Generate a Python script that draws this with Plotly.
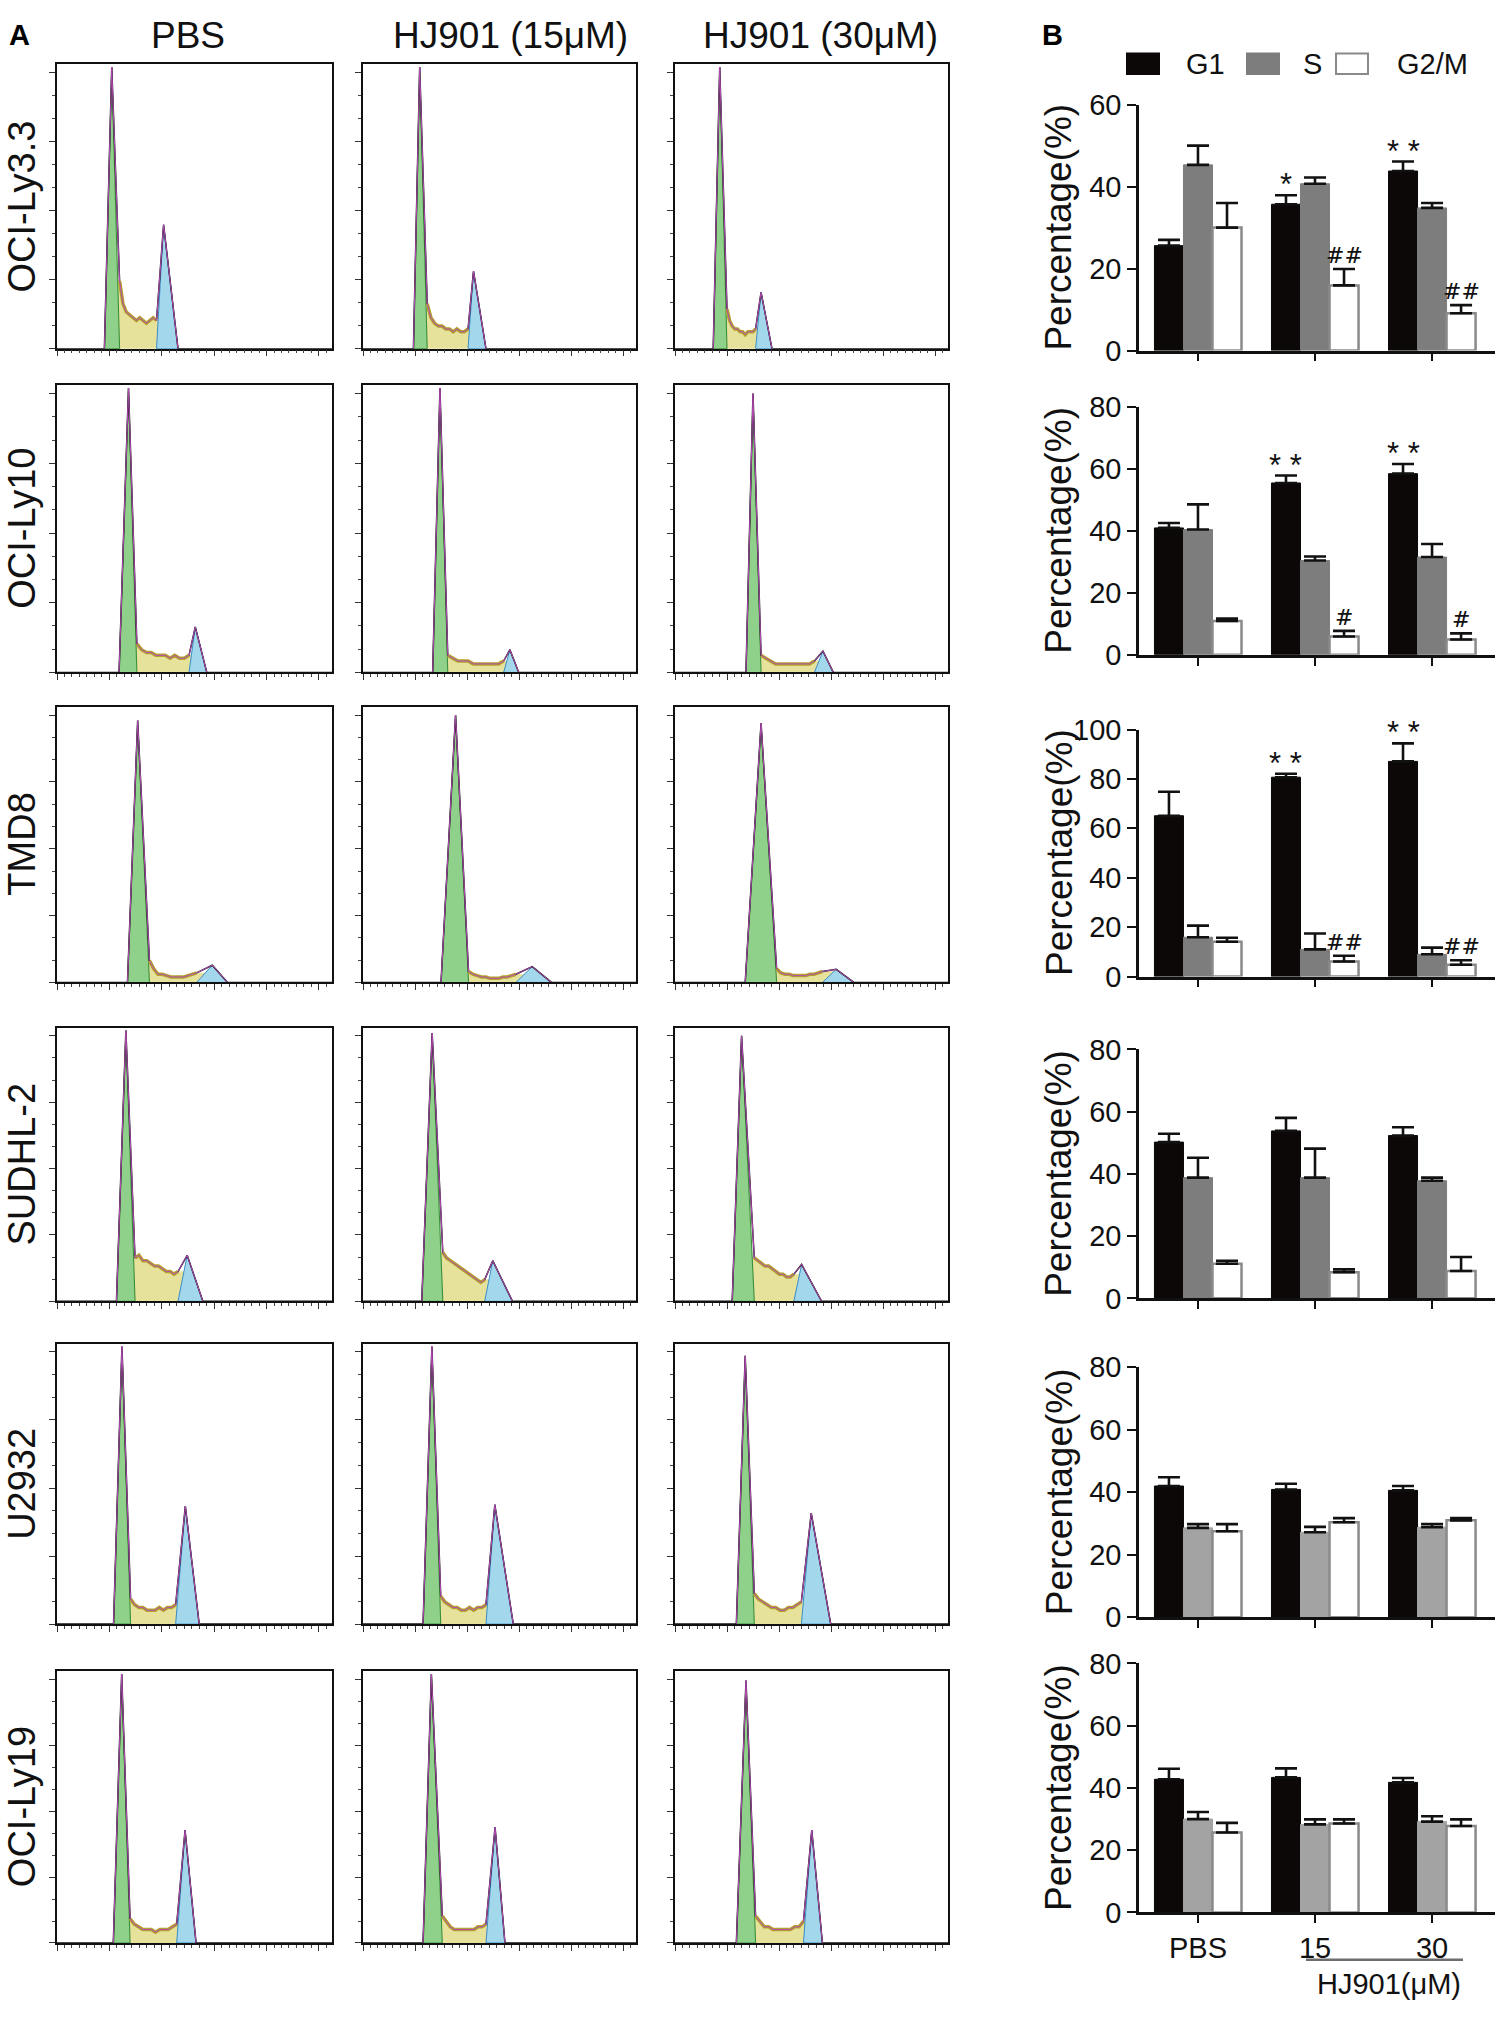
import plotly.graph_objects as go

W, H = 1500, 2020
FONT = "Arial, Liberation Sans, Helvetica, sans-serif"

# ---------------- Panel A data (DNA-content histograms, x in channel units 0-1050, y in % of max) ----------------
CELL_LINES = ["OCI-Ly3.3", "OCI-Ly10", "TMD8", "SUDHL-2", "U2932", "OCI-Ly19"]
TREATMENTS = ["PBS", "HJ901 (15μM)", "HJ901 (30μM)"]

G1_LEFT = [[181, 194, 147], [237, 268, 273], [269, 300, 270], [227, 226, 220], [216, 231, 236], [215, 231, 236]]
G1_TOP = [[209, 218, 172], [273, 296, 300], [308, 356, 331], [263, 266, 256], [248, 265, 270], [247, 263, 273]]
G1_RIGHT = [[239, 247, 200], [305, 326, 331], [353, 406, 391], [298, 307, 305], [281, 299, 305], [279, 305, 310]]
G1_HEIGHT = [[100, 100, 100], [100, 100, 98], [96, 98, 95], [100, 99, 98], [100, 100, 96.6], [100, 100, 97.6]]

G2_LEFT = [[380, 404, 310], [504, 541, 536], [533, 588, 567], [462, 468, 457], [453, 473, 486], [457, 473, 494]]
G2_TOP = [[407, 425, 331], [528, 565, 569], [593, 651, 620], [497, 499, 487], [490, 507, 524], [489, 508, 526]]
G2_RIGHT = [[462, 473, 373], [572, 599, 609], [651, 725, 688], [557, 575, 564], [543, 578, 599], [531, 546, 567]]
G2_HEIGHT = [[44, 27.5, 20], [16, 8, 7.5], [6.3, 5.8, 4.8], [17, 15, 13.6], [42.5, 43, 40], [42, 43, 42]]

S_LEVELS = [
    [[24, 16, 13, 12, 11, 10, 11, 10, 9, 10, 11, 10],
     [16, 11, 9, 8, 8, 7, 7, 6, 7, 6, 6, 7],
     [14, 10, 8, 7, 7, 6, 6, 5, 6, 6, 6, 7]],
    [[10, 8, 7, 7, 6, 6, 6, 5, 6, 5, 5, 6],
     [6, 5, 4, 4, 4, 3, 3, 3, 3, 3, 3, 4],
     [6, 5, 4, 3, 3, 3, 3, 3, 3, 3, 3, 4]],
    [[8, 5, 3, 3, 2.5, 2, 2, 2, 2, 2.5, 3, 3.5],
     [4, 3, 2.5, 2, 2, 1.5, 1.5, 1.5, 2, 2, 2.5, 3],
     [5, 3.5, 3, 3, 2.5, 2.5, 2.5, 2.5, 3, 3, 3.5, 4]],
    [[16, 17, 15, 15, 14, 13, 13, 12, 11, 11, 10, 11],
     [18, 16, 15, 14, 13, 12, 11, 10, 9, 8, 7, 8],
     [16, 15, 14, 13, 13, 12, 11, 10, 10, 9, 9, 10]],
    [[9, 7, 6, 6, 5, 5, 5, 6, 5, 6, 6, 7],
     [10, 8, 7, 6, 6, 5, 5, 6, 5, 6, 6, 7],
     [11, 9, 8, 7, 6, 6, 5, 5, 6, 6, 7, 8]],
    [[9, 7, 6, 5, 5, 5, 4, 5, 5, 5, 6, 7],
     [10, 8, 6, 5, 5, 5, 5, 5, 5, 6, 6, 7],
     [10, 8, 6, 6, 5, 5, 5, 5, 5, 6, 6, 8]],
]

# ---------------- Panel B data (cell-cycle percentages, mean and SD) ----------------
CONDITIONS = ["PBS", "15", "30"]
PHASES = ["G1", "S", "G2/M"]
G1_MEAN = [[25.6, 35.7, 43.8], [40.9, 55.4, 58.4], [65.1, 80.7, 87.1],
           [50.2, 53.8, 52.3], [42.0, 40.9, 40.6], [42.8, 43.4, 41.8]]
G1_ERR = [[1.4, 2.2, 2.3], [1.6, 2.4, 3.1], [9.7, 1.4, 7.3],
          [2.7, 4.2, 2.7], [2.8, 1.8, 1.4], [3.4, 2.9, 1.4]]
S_MEAN = [[45.3, 40.7, 34.8], [40.4, 30.4, 31.5], [15.9, 11.0, 9.0],
          [38.8, 38.8, 37.8], [28.6, 27.2, 28.8], [30.0, 28.3, 29.2]]
S_ERR = [[4.7, 1.5, 1.2], [8.1, 1.3, 4.2], [4.7, 6.4, 2.7],
         [6.4, 9.3, 1.0], [1.2, 1.7, 1.0], [2.3, 1.6, 1.7]]
G2M_MEAN = [[30.0, 15.9, 9.1], [10.9, 5.9, 4.9], [14.1, 6.1, 4.8],
            [11.1, 8.4, 8.8], [27.5, 30.4, 31.0], [25.7, 28.6, 27.8]]
G2M_ERR = [[6.0, 4.0, 2.0], [0.8, 1.8, 2.0], [1.6, 2.3, 1.8],
           [1.0, 0.9, 4.5], [2.3, 1.3, 0.7], [3.1, 1.3, 2.1]]
G1_SIG = [["", "*", "* *"], ["", "* *", "* *"], ["", "* *", "* *"], ["", "", ""], ["", "", ""], ["", "", ""]]
G2M_SIG = [["", "##", "##"], ["", "#", "#"], ["", "##", "##"], ["", "", ""], ["", "", ""], ["", "", ""]]
Y_MAX = [60, 80, 100, 80, 80, 80]
Y_TICKS = [[0, 20, 40, 60], [0, 20, 40, 60, 80], [0, 20, 40, 60, 80, 100],
           [0, 20, 40, 60, 80], [0, 20, 40, 60, 80], [0, 20, 40, 60, 80]]

# ---------------- layout geometry (pixels) ----------------
HIST_COLS_PX = [(57, 332), (363, 636), (675, 948)]
HIST_ROWS_PX = [(49, 338), (375, 667), (702, 982), (1028, 1306), (1349, 1634), (1682, 1958)]
BAR_X_PX = (1139, 1495)
BAR_ROWS_PX = [(90, 340), (397, 649), (725, 976), (1050, 1303), (1373, 1627), (1674, 1927)]
S_BAR_COLORS = ["#7d7d7d", "#7d7d7d", "#7d7d7d", "#7d7d7d", "#a3a3a3", "#a3a3a3"]


def fx(p):
    return p / W


def fy(p):
    return 1 - p / H


fig = go.Figure()
layout_axes = {}
annotations = []
shapes = []


def axname(k):
    return ("x" if k == 1 else f"x{k}"), ("y" if k == 1 else f"y{k}")


# ---------------- Panel A ----------------
for r in range(6):
    for c in range(3):
        k = r * 3 + c + 1
        xa, ya = axname(k)
        xl, xp, xr, h1 = G1_LEFT[r][c], G1_TOP[r][c], G1_RIGHT[r][c], G1_HEIGHT[r][c]
        x2l, x2p, x2r, h2 = G2_LEFT[r][c], G2_TOP[r][c], G2_RIGHT[r][c], G2_HEIGHT[r][c]
        s = S_LEVELS[r][c]
        n = len(s)
        sx = [xr + (x2l - xr) * i / (n - 1) for i in range(n)]

        # S phase (yellow)
        fig.add_trace(go.Scatter(
            x=[xp] + sx + [x2p, x2p, xp, xp], y=[s[0]] + s + [s[-1], 0, 0, s[0]],
            fill="toself", fillcolor="#e6e29c", line=dict(color="#e6e29c", width=0.5),
            mode="lines", xaxis=xa, yaxis=ya, hoverinfo="skip"))
        # G1 (green)
        fig.add_trace(go.Scatter(
            x=[xl, xp, xr, xl], y=[0, h1, 0, 0], fill="toself", fillcolor="#8fd08a",
            line=dict(color="#3a8f3a", width=1.1), mode="lines", xaxis=xa, yaxis=ya, hoverinfo="skip"))
        # G2/M (blue)
        fig.add_trace(go.Scatter(
            x=[x2l, x2p, x2r, x2l], y=[0, h2, 0, 0], fill="toself", fillcolor="#a3d8ec",
            line=dict(color="#3a8cc4", width=1), mode="lines", xaxis=xa, yaxis=ya, hoverinfo="skip"))
        # total envelope
        ex = [0, xl, xp] + sx + [x2p, x2r, 1050]
        ey = [0, 0, h1] + s + [h2, 0, 0]
        fig.add_trace(go.Scatter(x=ex, y=ey, mode="lines", line=dict(color="#111111", width=1.5),
                                 xaxis=xa, yaxis=ya, hoverinfo="skip"))
        # S-phase raw outline (olive band) and magenta data trace
        fig.add_trace(go.Scatter(x=sx, y=s, mode="lines", line=dict(color="#b2a22c", width=3.5),
                                 xaxis=xa, yaxis=ya, hoverinfo="skip"))
        fig.add_trace(go.Scatter(x=[xl, xp] + sx + [x2p, x2r], y=[0, h1] + s + [h2, 0], mode="lines",
                                 line=dict(color="#b64bb6", width=1),
                                 xaxis=xa, yaxis=ya, hoverinfo="skip"))

        x0, x1 = HIST_COLS_PX[c]
        y0, y1 = HIST_ROWS_PX[r]
        layout_axes[f"xaxis{k}"] = dict(
            domain=[fx(x0), fx(x1)], anchor=ya, range=[0, 1050], showline=True, mirror=True,
            linecolor="#111", linewidth=1.6, ticks="outside", ticklen=6, tickwidth=1, tickcolor="#333",
            tick0=0, dtick=200, showticklabels=False, showgrid=False, zeroline=False,
            minor=dict(ticks="outside", ticklen=3, tickcolor="#444", tickwidth=1, dtick=200 / 7, showgrid=False))
        layout_axes[f"yaxis{k}"] = dict(
            domain=[fy(y1), fy(y0)], anchor=xa, range=[0, 101], showline=True, mirror=True,
            linecolor="#111", linewidth=1.6, ticks="outside", ticklen=6, tickwidth=1, tickcolor="#333",
            tick0=0, dtick=24.5, showticklabels=False, showgrid=False, zeroline=False,
            minor=dict(ticks="outside", ticklen=3, tickcolor="#444", tickwidth=1, dtick=24.5 / 3, showgrid=False))

# row labels
for r, name in enumerate(CELL_LINES):
    y0, y1 = HIST_ROWS_PX[r]
    annotations.append(dict(text=name, x=fx(22), y=fy((y0 + y1) / 2), xref="paper", yref="paper",
                            textangle=-90, showarrow=False, xanchor="center", yanchor="middle",
                            font=dict(family=FONT, size=38, color="#111")))
# column headers
for c, (name, cx) in enumerate(zip(TREATMENTS, [188, 510, 820])):
    annotations.append(dict(text=name, x=fx(cx), y=fy(20), xref="paper", yref="paper", showarrow=False,
                            xanchor="center", yanchor="middle", font=dict(family=FONT, size=37, color="#111")))
annotations.append(dict(text="<b>A</b>", x=fx(19), y=fy(19), xref="paper", yref="paper", showarrow=False,
                        xanchor="center", yanchor="middle", font=dict(family=FONT, size=29, color="#000")))
annotations.append(dict(text="<b>B</b>", x=fx(1052), y=fy(19), xref="paper", yref="paper", showarrow=False,
                        xanchor="center", yanchor="middle", font=dict(family=FONT, size=29, color="#000")))

# ---------------- Panel B ----------------
XPOS = [0, 1, 2]
BW = 0.248
for p in range(6):
    k = 19 + p
    xa, ya = axname(k)
    err_style = dict(type="data", symmetric=False, arrayminus=[0, 0, 0], color="#111",
                     thickness=2.6, width=11)
    fig.add_trace(go.Bar(x=XPOS, y=G1_MEAN[p], name=PHASES[0], marker=dict(color="#0c0808",
                         line=dict(color="#0c0808", width=1)),
                         error_y=dict(array=G1_ERR[p], **err_style), xaxis=xa, yaxis=ya))
    fig.add_trace(go.Bar(x=XPOS, y=S_MEAN[p], name=PHASES[1], marker=dict(color=S_BAR_COLORS[p],
                         line=dict(color=S_BAR_COLORS[p], width=1)),
                         error_y=dict(array=S_ERR[p], **err_style), xaxis=xa, yaxis=ya))
    fig.add_trace(go.Bar(x=XPOS, y=G2M_MEAN[p], name=PHASES[2], marker=dict(color="white",
                         line=dict(color="#8a8a8a", width=2.5)),
                         error_y=dict(array=G2M_ERR[p], **err_style), xaxis=xa, yaxis=ya))

    y0, y1 = BAR_ROWS_PX[p]
    last = p == 5
    layout_axes[f"xaxis{k}"] = dict(
        domain=[fx(BAR_X_PX[0]), fx(BAR_X_PX[1])], anchor=ya, range=[-0.504, 2.538],
        showline=True, linecolor="#111", linewidth=2.6, ticks="outside", ticklen=8, tickwidth=2.4,
        tickcolor="#111", tickvals=XPOS, ticktext=CONDITIONS, showticklabels=last,
        tickfont=dict(family=FONT, size=29, color="#111"), showgrid=False, zeroline=False)
    layout_axes[f"yaxis{k}"] = dict(
        domain=[fy(y1), fy(y0)], anchor=xa, range=[0, Y_MAX[p]], showline=True, linecolor="#111",
        linewidth=2.6, ticks="outside", ticklen=9, tickwidth=2.4, tickcolor="#111",
        tickvals=Y_TICKS[p], tickfont=dict(family=FONT, size=29, color="#111"),
        showgrid=False, zeroline=False)

    annotations.append(dict(text="Percentage(%)", x=fx(1059), y=fy((y0 + y1) / 2), xref="paper",
                            yref="paper", textangle=-90, showarrow=False, xanchor="center",
                            yanchor="middle", font=dict(family=FONT, size=37, color="#111")))
    for i in range(3):
        if G1_SIG[p][i]:
            annotations.append(dict(text=G1_SIG[p][i], x=XPOS[i] - BW, y=G1_MEAN[p][i] + G1_ERR[p][i],
                                    xref=xa, yref=ya, showarrow=False, xanchor="center", yanchor="bottom",
                                    yshift=-9, font=dict(family=FONT, size=31, color="#111")))
        if G2M_SIG[p][i]:
            annotations.append(dict(text=G2M_SIG[p][i], x=XPOS[i] + BW, y=G2M_MEAN[p][i] + G2M_ERR[p][i],
                                    xref=xa, yref=ya, showarrow=False, xanchor="center", yanchor="bottom",
                                    yshift=-1, font=dict(family="DejaVu Serif, serif", size=22, color="#111")))

# legend (drawn manually)
LEG = [("G1", "#0c0808", "#0c0808", 1127, 1205), ("S", "#7d7d7d", "#7d7d7d", 1247, 1312),
       ("G2/M", "white", "#8a8a8a", 1336, 1432)]
for label, fill, edge, lx, tx in LEG:
    shapes.append(dict(type="rect", xref="paper", yref="paper", x0=fx(lx), x1=fx(lx + 32),
                       y0=fy(59), y1=fy(38), fillcolor=fill, line=dict(color=edge, width=2)))
    annotations.append(dict(text=label, x=fx(tx), y=fy(49), xref="paper", yref="paper", showarrow=False,
                            xanchor="center", yanchor="middle", font=dict(family=FONT, size=29, color="#111")))

# HJ901 bracket
shapes.append(dict(type="line", xref="paper", yref="paper", x0=fx(1306), x1=fx(1463), y0=fy(1975),
                   y1=fy(1975), line=dict(color="#6e6e6e", width=2.6)))
annotations.append(dict(text="HJ901(μM)", x=fx(1389), y=fy(2000), xref="paper", yref="paper",
                        showarrow=False, xanchor="center", yanchor="middle",
                        font=dict(family=FONT, size=29, color="#111")))

fig.update_layout(
    width=W, height=H, margin=dict(l=0, r=0, t=0, b=0), paper_bgcolor="white", plot_bgcolor="white",
    showlegend=False, barmode="group", bargap=0.256, bargroupgap=0,
    annotations=annotations, shapes=shapes, **layout_axes)

PAGE_FIX = ("var h=document.documentElement,b=document.body;"
            "h.style.margin='0';h.style.padding='0';h.style.overflow='hidden';"
            "b.style.margin='0';b.style.padding='0';b.style.overflow='hidden';")
fig.write_html("out.html", config={"displayModeBar": False}, post_script=PAGE_FIX)
